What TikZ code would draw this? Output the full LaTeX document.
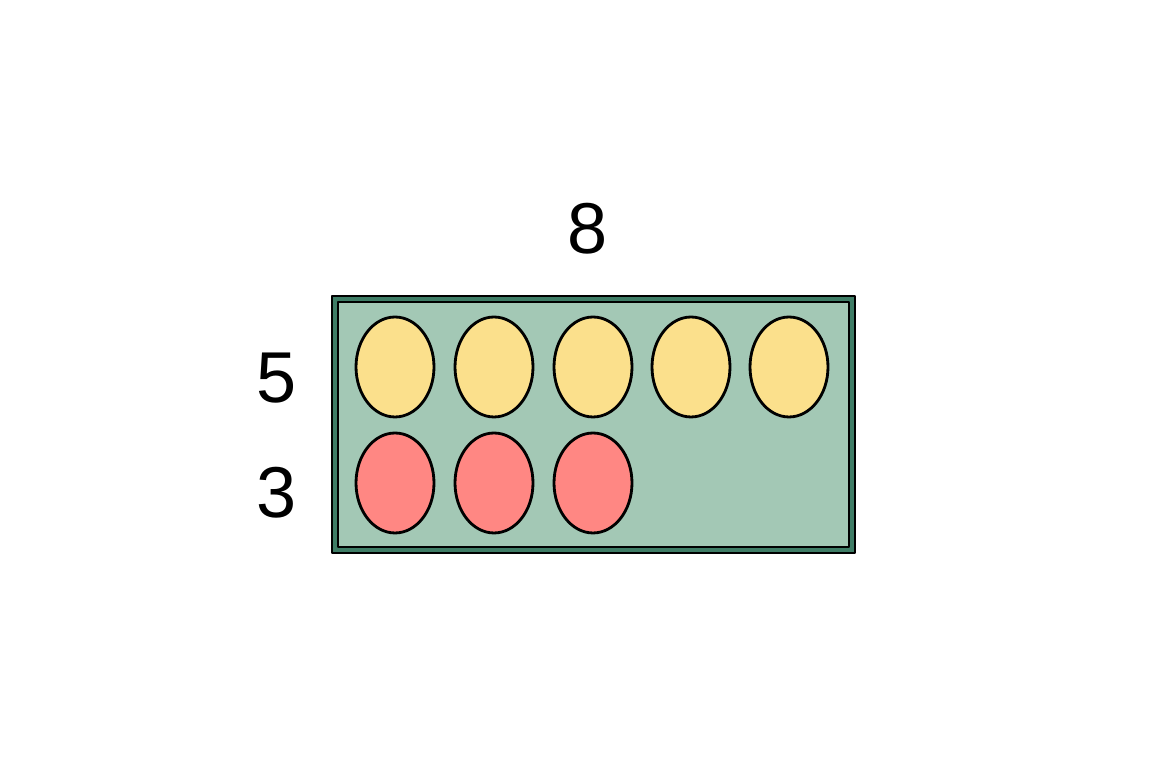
\documentclass[tikz,border=0pt]{standalone}
\usepackage{fontspec}
\setmainfont{Liberation Sans}
\usetikzlibrary{shapes.geometric}
\definecolor{trayfill}{HTML}{A3C8B5}
\definecolor{trayedge}{HTML}{3F7D66}
\definecolor{dotyellow}{HTML}{FBE08C}
\definecolor{dotred}{HTML}{FF8783}
\tikzset{
	dot/.style={ellipse,draw=black,line width=1.6pt,minimum width=1.56cm,minimum height=2cm,inner sep=0pt},
	numlabel/.style={font=\fontsize{41}{41}\selectfont,text=black}
}

\begin{document}
\begin{tikzpicture}[line cap=round,line join=round,x=0.02cm,y=0.02cm]
		\useasboundingbox (0,0) rectangle (1160,774);
		\draw [line width=1.5pt,fill=trayedge] (332,221) rectangle (855,478);
		\draw [line width=1.5pt,fill=trayfill] (338,227) rectangle (849,472);
		\node[dot,fill=dotyellow] (y1) at (395,407) {};
		\node[dot,fill=dotyellow] (y2) at (494,407) {};
		\node[dot,fill=dotyellow] (y3) at (593,407) {};
		\node[dot,fill=dotyellow] (y4) at (691,407) {};
		\node[dot,fill=dotyellow] (y5) at (789,407) {};
		\node[dot,fill=dotred] (r1) at (395,291) {};
		\node[dot,fill=dotred] (r2) at (494,291) {};
		\node[dot,fill=dotred] (r3) at (593,291) {};
		\node[numlabel] (top) at (588,545) {8};
		\node[numlabel] (five) at (277,396) {5};
		\node[numlabel] (three) at (277,281) {3};
	\end{tikzpicture}
\end{document}
